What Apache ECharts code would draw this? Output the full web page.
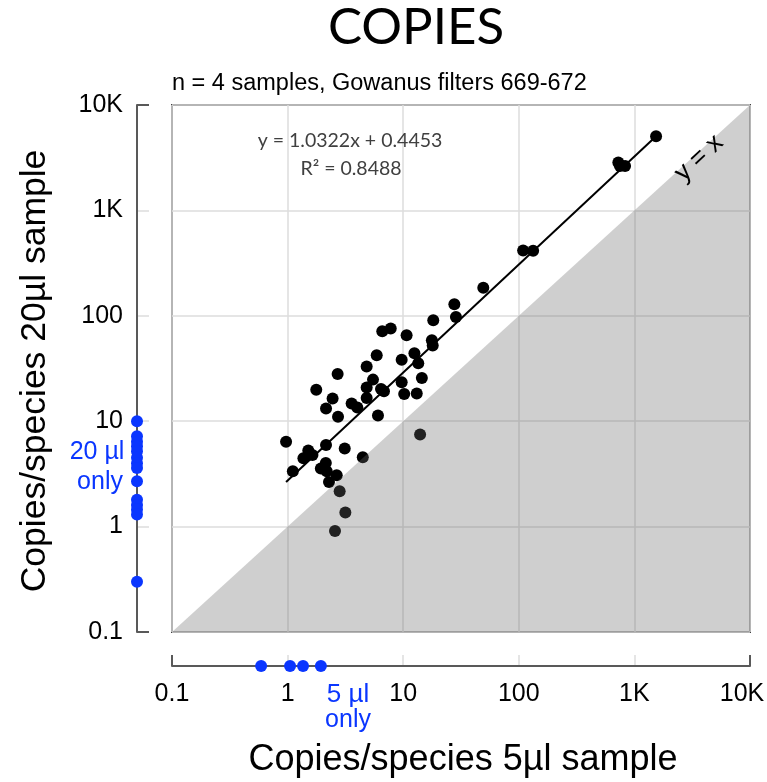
<!DOCTYPE html>
<html>
<head>
<meta charset="utf-8">
<script src="https://cdn.jsdelivr.net/npm/echarts@6/dist/echarts.min.js"></script>
<style>html,body{margin:0;padding:0;background:#fff}#c{width:767px;height:782px}</style>
</head>
<body>
<div id="c"></div>
<script>
// ---- data ----
const tickLabels = ['0.1', '1', '10', '100', '1K', '10K'];
// paired samples: copies/species in 5 µl sample (x) and 20 µl sample (y)
const copies5ul = [1540, 726, 750, 830, 109, 133, 49.3, 27.7, 28.6, 18.2, 7.8, 6.59, 10.7, 17.7, 18.0,
  5.9, 12.5, 9.7, 13.5, 4.83, 2.71, 5.48, 14.5, 9.7, 4.83, 6.43, 6.82, 1.77, 2.45, 4.83, 10.2, 13.1,
  3.58, 4.01, 2.15, 2.73, 6.05, 14.0, 0.97, 2.15, 3.12, 1.51, 1.37, 1.64, 4.47, 1.11, 2.14, 1.94,
  2.18, 2.66, 2.28, 2.82, 3.16, 2.57];
const copies20ul = [5050, 2850, 2640, 2640, 417, 414, 185, 129, 97.6, 90.8, 75.6, 71.3, 65.3, 58.5, 52.4,
  42.3, 44.2, 38.3, 35.5, 33.0, 28.1, 24.8, 25.7, 23.4, 20.9, 20.2, 19.2, 19.9, 16.4, 16.6, 18.1, 18.3,
  14.7, 13.5, 13.2, 11.0, 11.3, 7.48, 6.38, 5.94, 5.5, 5.26, 4.46, 4.79, 4.56, 3.35, 4.02, 3.56,
  3.35, 3.07, 2.65, 2.16, 1.36, 0.91];
// species detected only in the 20 µl sample (y values) and only in the 5 µl sample (x values)
const only20ul = [10, 7.2, 6.4, 5.8, 5.2, 4.5, 4.0, 3.6, 2.7, 1.8, 1.6, 1.45, 1.3, 0.3];
const only5ul = [0.59, 1.05, 1.36, 1.94];
// fitted trend line end points (as drawn)
const fitX = [0.97, 1540];
const fitY = [2.65, 5050];
// axis range and y = x region
const axisMin = 0.1, axisMax = 10000;
const diagX = [axisMin, axisMax, axisMax];
const diagY = [axisMin, axisMax, axisMin];

const ARIAL = '"Liberation Sans", Arial, sans-serif';
const CAL = 'Lato, "Open Sans", sans-serif';
const BLUE = '#0a36ff';

function fmt(v) { return tickLabels[Math.round(Math.log10(v)) + 1] || ''; }
function fmtX(v) {
  const i = Math.round(Math.log10(v)) + 1;
  const t = tickLabels[i] || '';
  return i === tickLabels.length - 1 ? '{last|' + t + '}' : t;
}

const chart = echarts.init(document.getElementById('c'), null, { renderer: 'canvas' });

const logAxisBase = {
  type: 'log', logBase: 10, min: axisMin, max: axisMax
};

const option = {
  animation: false,
  backgroundColor: '#fff',
  grid: [
    { left: 172, top: 105, width: 578, height: 527, show: true, borderColor: '#404040', borderWidth: 2, backgroundColor: 'transparent', containLabel: false, outerBoundsMode: 'none' },
    { left: 137, top: 105, width: 12, height: 527, containLabel: false, outerBoundsMode: 'none' },
    { left: 172, top: 655, width: 578, height: 11, containLabel: false, outerBoundsMode: 'none' }
  ],
  xAxis: [
    Object.assign({}, logAxisBase, { gridIndex: 0, axisLine: { show: false }, axisTick: { show: false }, axisLabel: { show: false },
      splitLine: { show: true, lineStyle: { color: '#dcdcdc', width: 1.5 } } }),
    { type: 'value', gridIndex: 1, min: 0, max: 1, show: false },
    Object.assign({}, logAxisBase, { gridIndex: 2, position: 'bottom',
      axisLine: { show: true, lineStyle: { color: '#595959', width: 2 } }, axisTick: { show: false },
      axisLabel: { show: true, formatter: fmtX, fontFamily: ARIAL, fontSize: 25, color: '#000', margin: 16, hideOverlap: false,
        rich: { last: { fontFamily: ARIAL, fontSize: 25, color: '#000', padding: [0, 16, 0, 0] } } },
      splitLine: { show: true, lineStyle: { color: '#dcdcdc', width: 1.5 } } })
  ],
  yAxis: [
    Object.assign({}, logAxisBase, { gridIndex: 0, axisLine: { show: false }, axisTick: { show: false }, axisLabel: { show: false },
      splitLine: { show: true, lineStyle: { color: '#dcdcdc', width: 1.5 } } }),
    Object.assign({}, logAxisBase, { gridIndex: 1, position: 'left',
      axisLine: { show: true, lineStyle: { color: '#595959', width: 2 } }, axisTick: { show: false },
      axisLabel: { show: true, formatter: fmt, fontFamily: ARIAL, fontSize: 25, color: '#000', margin: 14 },
      splitLine: { show: true, lineStyle: { color: '#dcdcdc', width: 1.5 } } }),
    { type: 'value', gridIndex: 2, min: 0, max: 1, show: false }
  ],
  series: [
    {
      type: 'line', xAxisIndex: 0, yAxisIndex: 0, z: 2,
      data: fitX.map((x, i) => [x, fitY[i]]),
      symbol: 'none', lineStyle: { color: '#000', width: 2 }
    },
    {
      type: 'scatter', xAxisIndex: 0, yAxisIndex: 0, z: 3,
      data: copies5ul.map((x, i) => [x, copies20ul[i]]),
      symbolSize: 12, itemStyle: { color: '#000', opacity: 1 }
    },
    {
      type: 'custom', xAxisIndex: 0, yAxisIndex: 0, z: 4, silent: true,
      data: [0],
      renderItem: function (params, api) {
        const pts = diagX.map((x, i) => api.coord([x, diagY[i]]));
        return { type: 'polygon', shape: { points: pts }, style: { fill: 'rgba(107,107,107,0.32)' } };
      }
    },
    {
      type: 'scatter', xAxisIndex: 1, yAxisIndex: 1, clip: false, z: 5,
      data: only20ul.map(v => [0, v]), symbolSize: 12, itemStyle: { color: BLUE, opacity: 1 }
    },
    {
      type: 'scatter', xAxisIndex: 2, yAxisIndex: 2, clip: false, z: 5,
      data: only5ul.map(v => [v, 0]), symbolSize: 12, itemStyle: { color: BLUE, opacity: 1 }
    },
    {
      type: 'custom', xAxisIndex: 1, yAxisIndex: 1, z: 4, silent: true, clip: false,
      data: [axisMin, axisMax],
      renderItem: function (params, api) {
        const v = api.value(0);
        const a = api.coord([0, v]), b = api.coord([1, v]);
        return { type: 'line', shape: { x1: a[0], y1: a[1], x2: b[0], y2: b[1] }, style: { stroke: '#595959', lineWidth: 2 } };
      },
      encode: { y: 0 }
    },
    {
      type: 'custom', xAxisIndex: 2, yAxisIndex: 2, z: 4, silent: true, clip: false,
      data: [axisMin, axisMax],
      renderItem: function (params, api) {
        const v = api.value(0);
        const a = api.coord([v, 0]), b = api.coord([v, 1]);
        return { type: 'line', shape: { x1: a[0], y1: a[1], x2: b[0], y2: b[1] }, style: { stroke: '#595959', lineWidth: 2 } };
      },
      encode: { x: 0 }
    }
  ],
  graphic: [
    { type: 'text', x: 416, y: 28, z: 10, style: { text: 'COPIES', font: '51px ' + CAL, fill: '#000', align: 'center', verticalAlign: 'middle' } },
    { type: 'text', x: 172, y: 84, z: 10, style: { text: 'n = 4 samples, Gowanus filters 669-672', font: '23.5px ' + ARIAL, fill: '#000', verticalAlign: 'middle' } },
    { type: 'text', x: 350, y: 141, z: 10, style: { text: 'y = 1.0322x + 0.4453', font: '19.5px ' + CAL, fill: '#404040', align: 'center', verticalAlign: 'middle' } },
    { type: 'text', x: 351, y: 169, z: 10, style: { text: 'R² = 0.8488', font: '19.5px ' + CAL, fill: '#404040', align: 'center', verticalAlign: 'middle' } },
    { type: 'text', x: 699, y: 158, rotation: 43 * Math.PI / 180, z: 10, style: { text: 'y = x', font: '26px ' + ARIAL, fill: '#000', align: 'center', verticalAlign: 'middle' } },
    { type: 'text', x: 97, y: 452, z: 10, style: { text: '20 µl', font: '25px ' + ARIAL, fill: BLUE, align: 'center', verticalAlign: 'middle' } },
    { type: 'text', x: 100, y: 482, z: 10, style: { text: 'only', font: '25px ' + ARIAL, fill: BLUE, align: 'center', verticalAlign: 'middle' } },
    { type: 'text', x: 348, y: 695, z: 10, style: { text: '5 µl', font: '26px ' + ARIAL, fill: BLUE, align: 'center', verticalAlign: 'middle' } },
    { type: 'text', x: 348, y: 720, z: 10, style: { text: 'only', font: '25px ' + ARIAL, fill: BLUE, align: 'center', verticalAlign: 'middle' } },
    { type: 'text', x: 35, y: 371, rotation: Math.PI / 2, z: 10, style: { text: 'Copies/species 20µl sample', font: '35.5px ' + ARIAL, fill: '#000', align: 'center', verticalAlign: 'middle' } },
    { type: 'text', x: 463, y: 760, z: 10, style: { text: 'Copies/species 5µl sample', font: '36px ' + ARIAL, fill: '#000', align: 'center', verticalAlign: 'middle' } }
  ]
};
chart.setOption(option);
</script>
</body>
</html>
